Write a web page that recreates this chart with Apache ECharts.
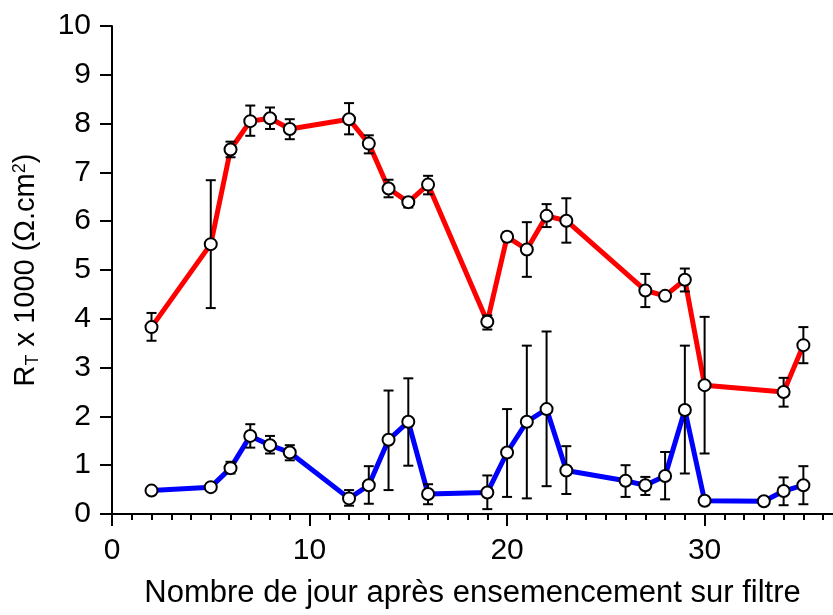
<!DOCTYPE html>
<html>
<head>
<meta charset="utf-8">
<script src="https://cdn.jsdelivr.net/npm/echarts@6/dist/echarts.min.js"></script>
<style>
html, body { margin: 0; padding: 0; background: #fff; }
#chart { width: 833px; height: 615px; }
</style>
</head>
<body>
<div id="chart"></div>
<script>
// jours
const redDays = [2, 5, 6, 7, 8, 9, 12, 13, 14, 15, 16, 19, 20, 21, 22, 23, 27, 28, 29, 30, 34, 35];
const redVals = [3.83, 5.53, 7.47, 8.05, 8.11, 7.89, 8.09, 7.59, 6.67, 6.39, 6.75, 3.94, 5.68, 5.42, 6.11, 6.01, 4.58, 4.47, 4.80, 2.64, 2.50, 3.46];
const redLow  = [3.55, 4.22, 7.31, 7.75, 7.89, 7.68, 7.78, 7.39, 6.49, 6.28, 6.55, 3.78, 5.59, 4.86, 5.88, 5.56, 4.24, 4.38, 4.56, 1.24, 2.20, 3.09];
const redHigh = [4.12, 6.84, 7.63, 8.37, 8.33, 8.09, 8.42, 7.76, 6.85, 6.48, 6.93, 4.07, 5.77, 5.98, 6.35, 6.47, 4.92, 4.54, 5.03, 4.04, 2.79, 3.83];

const blueDays = [2, 5, 6, 7, 8, 9, 12, 13, 14, 15, 16, 19, 20, 21, 22, 23, 26, 27, 28, 29, 30, 33, 34, 35];
const blueVals = [0.48, 0.55, 0.94, 1.60, 1.41, 1.26, 0.32, 0.59, 1.52, 1.89, 0.41, 0.44, 1.26, 1.89, 2.15, 0.89, 0.68, 0.59, 0.78, 2.13, 0.27, 0.26, 0.47, 0.59];
const blueLow  = [null, null, 0.83, 1.36, 1.24, 1.10, 0.17, 0.21, 0.49, 0.99, 0.20, 0.10, 0.35, 0.32, 0.57, 0.41, 0.35, 0.39, 0.30, 0.83, null, null, 0.18, 0.20];
const blueHigh = [null, null, 1.07, 1.84, 1.60, 1.41, 0.49, 0.98, 2.53, 2.78, 0.61, 0.79, 2.15, 3.45, 3.74, 1.39, 1.00, 0.76, 1.27, 3.45, null, null, 0.75, 0.98];

const xMajorTicks = [0, 10, 20, 30];
const xMinorTicks = [];
for (let i = 0; i <= 36; i++) xMinorTicks.push(i);

const pairs = (xs, ys) => xs.map((x, i) => [x, ys[i]]);
const errData = (xs, lo, hi) => xs.map((x, i) => [x, lo[i], hi[i]]).filter(d => d[1] != null);

const renderErr = (params, api) => {
    const x = api.value(0);
    const lo = api.coord([x, api.value(1)]);
    const hi = api.coord([x, api.value(2)]);
    const cap = 5;
    const style = { stroke: '#000', lineWidth: 2 };
    return {
        type: 'group',
        children: [
            { type: 'line', shape: { x1: lo[0], y1: lo[1], x2: hi[0], y2: hi[1] }, style: style },
            { type: 'line', shape: { x1: lo[0] - cap, y1: lo[1], x2: lo[0] + cap, y2: lo[1] }, style: style },
            { type: 'line', shape: { x1: hi[0] - cap, y1: hi[1], x2: hi[0] + cap, y2: hi[1] }, style: style }
        ]
    };
};

const font = 'Liberation Sans, Arial, sans-serif';
const chart = echarts.init(document.getElementById('chart'));

const markerStyle = { color: '#fff', borderColor: '#000', borderWidth: 2, opacity: 1 };

chart.setOption({
    animation: false,
    grid: { left: 112, right: 0, top: 26, bottom: 101 },
    xAxis: [{
        type: 'value',
        min: 0,
        max: 36.5,
        interval: 10,
        name: 'Nombre de jour après ensemencement sur filtre',
        nameLocation: 'middle',
        nameGap: 64,
        nameTextStyle: { fontFamily: font, fontSize: 31, color: '#000' },
        axisLine: { onZero: false, lineStyle: { color: '#000', width: 2 } },
        axisTick: { customValues: xMajorTicks, length: 12, lineStyle: { color: '#000', width: 2 } },
        axisLabel: { customValues: xMajorTicks, margin: 22, fontFamily: font, fontSize: 30, color: '#000' },
        splitLine: { show: false }
    }, {
        type: 'value',
        min: 0,
        max: 36.5,
        position: 'bottom',
        axisLine: { show: false },
        axisTick: { customValues: xMinorTicks, length: 6, lineStyle: { color: '#000', width: 2 } },
        axisLabel: { show: false },
        splitLine: { show: false }
    }],
    yAxis: {
        type: 'value',
        min: 0,
        max: 10,
        interval: 1,
        name: '{n|R}{sub|T}{n| x 1000 (Ω.cm}{sup|2}{n|)}',
        nameLocation: 'middle',
        nameGap: 70,
        nameTextStyle: {
            rich: {
                n: { fontFamily: font, fontSize: 29, color: '#000' },
                sub: { fontFamily: font, fontSize: 18, color: '#000', padding: [14, 0, 0, 0] },
                sup: { fontFamily: font, fontSize: 18, color: '#000', padding: [0, 0, 12, 0] }
            }
        },
        axisLine: { show: true, lineStyle: { color: '#000', width: 2 } },
        axisTick: { show: true, length: 12, lineStyle: { color: '#000', width: 2 } },
        axisLabel: { margin: 21, fontFamily: font, fontSize: 30, color: '#000' },
        splitLine: { show: false }
    },
    series: [{
        type: 'line',
        data: pairs(redDays, redVals),
        showSymbol: false,
        lineStyle: { color: '#ff0000', width: 5 },
        z: 2
    }, {
        type: 'line',
        data: pairs(blueDays, blueVals),
        showSymbol: false,
        lineStyle: { color: '#0000ff', width: 5 },
        z: 2
    }, {
        type: 'custom',
        data: errData(redDays, redLow, redHigh),
        renderItem: renderErr,
        z: 3
    }, {
        type: 'custom',
        data: errData(blueDays, blueLow, blueHigh),
        renderItem: renderErr,
        z: 3
    }, {
        type: 'scatter',
        data: pairs(redDays, redVals),
        symbol: 'circle',
        symbolSize: 12,
        itemStyle: markerStyle,
        z: 4
    }, {
        type: 'scatter',
        data: pairs(blueDays, blueVals),
        symbol: 'circle',
        symbolSize: 12,
        itemStyle: markerStyle,
        z: 4
    }]
});
</script>
</body>
</html>
